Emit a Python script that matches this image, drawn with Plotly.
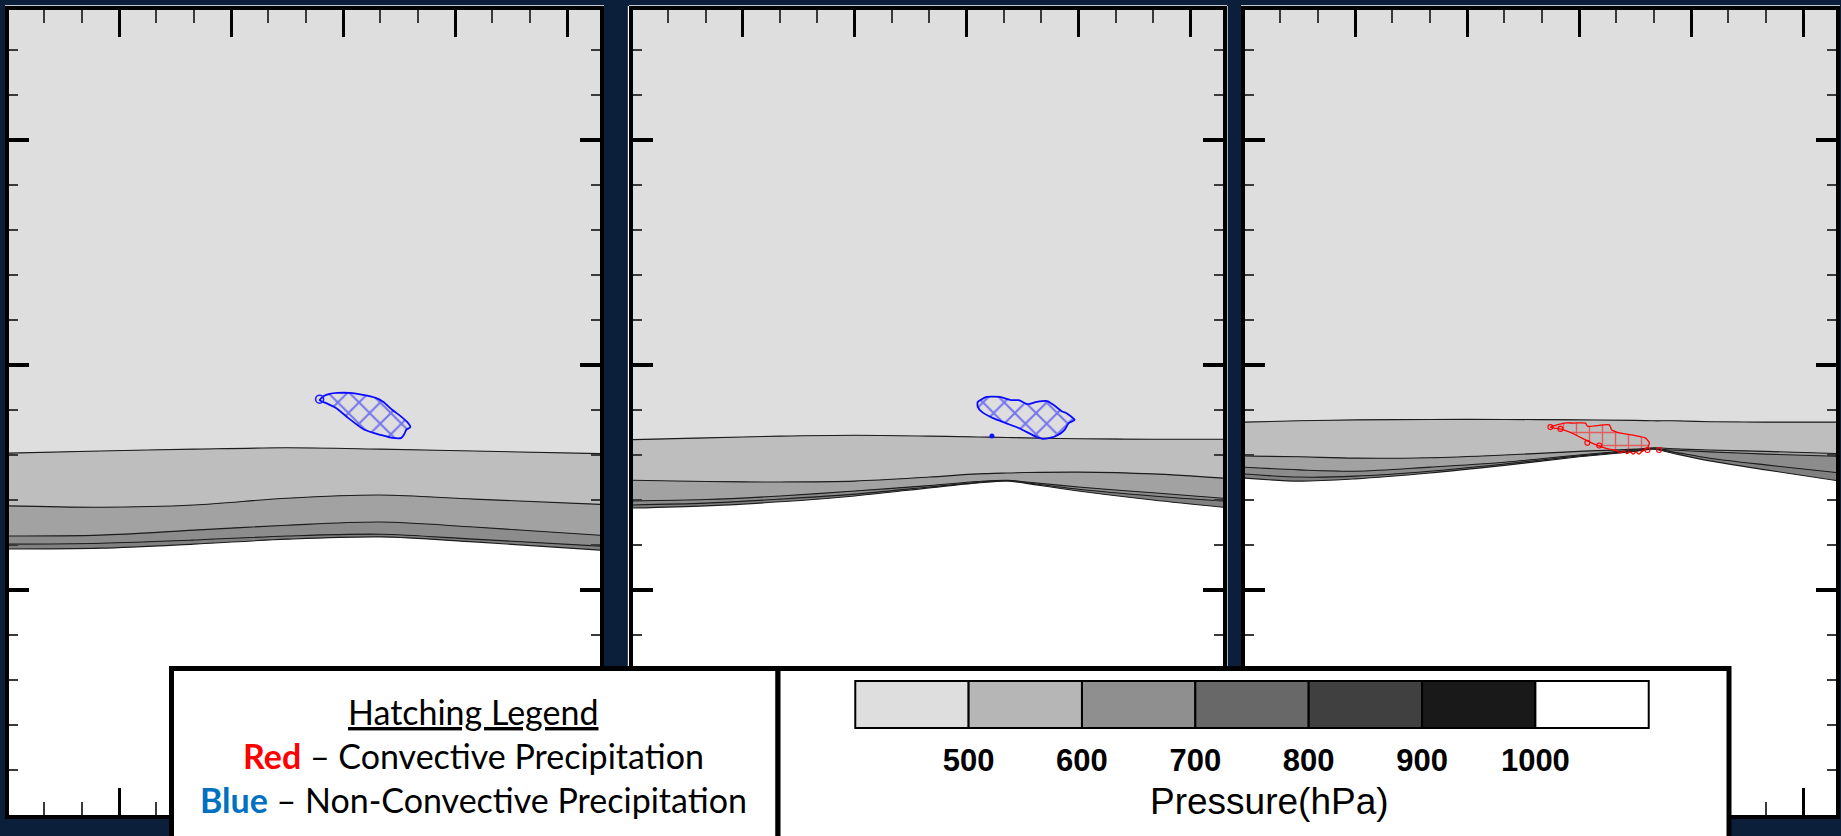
import plotly.graph_objects as go

W, H = 1841, 836
BG = '#0b1f3b'

# ---------------- data ----------------
X_RANGE = [5, 1588]          # horizontal distance along section
Y_RANGE = [0, 17.89]         # height (km)
Y_TOP = 19.0

# heights (km) of the pressure surfaces bounding each shaded band
P1_X = [0, 250, 500, 750, 1000, 1250, 1600]
P1_A = [8.04, 8.09, 8.13, 8.16, 8.13, 8.09, 8.03]
P1_B = [6.87, 6.84, 6.89, 7.04, 7.11, 7.02, 6.90]
P1_C = [6.20, 6.22, 6.33, 6.44, 6.51, 6.40, 6.21]
P1_D = [6.02, 6.04, 6.11, 6.20, 6.24, 6.13, 5.97]
P1_E = [5.91, 5.93, 6.02, 6.13, 6.18, 6.07, 5.88]

P2_X = [0, 200, 400, 600, 800, 930, 1010, 1060, 1200, 1400, 1600]
P2_A = [8.34, 8.38, 8.42, 8.44, 8.42, 8.40, 8.39, 8.38, 8.36, 8.35, 8.35]
P2_B = [7.44, 7.41, 7.40, 7.42, 7.51, 7.58, 7.60, 7.61, 7.62, 7.58, 7.48]
P2_C = [6.98, 7.01, 7.09, 7.20, 7.32, 7.41, 7.44, 7.40, 7.29, 7.16, 7.03]
P2_D = [6.89, 6.93, 7.02, 7.13, 7.29, 7.39, 7.43, 7.38, 7.24, 7.09, 6.97]
P2_E = [6.82, 6.87, 6.96, 7.09, 7.27, 7.38, 7.42, 7.37, 7.20, 7.00, 6.83]

P3_X = [0, 150, 300, 500, 700, 900, 1050, 1100, 1150, 1250, 1400, 1600]
P3_A = [8.73, 8.76, 8.78, 8.79, 8.79, 8.78, 8.77, 8.76, 8.76, 8.74, 8.73, 8.73]
P3_B = [7.98, 7.96, 7.93, 7.94, 8.00, 8.08, 8.13, 8.16, 8.14, 8.11, 8.08, 8.03]
P3_C = [7.73, 7.67, 7.64, 7.73, 7.84, 8.00, 8.11, 8.14, 8.11, 8.07, 8.02, 7.97]
P3_D = [7.58, 7.51, 7.53, 7.64, 7.80, 7.98, 8.09, 8.13, 8.07, 7.93, 7.78, 7.60]
P3_E = [7.49, 7.42, 7.47, 7.60, 7.77, 7.96, 8.08, 8.13, 8.04, 7.87, 7.67, 7.42]

# precipitation areas (hatched)
BLUE1_X = [837, 848, 864, 885, 917, 957, 987, 1008, 1032, 1053, 1072, 1080, 1069, 1064,
           1056, 1032, 1003, 957, 914, 882, 853]
BLUE1_Y = [9.22, 9.31, 9.36, 9.38, 9.38, 9.33, 9.27, 9.18, 9.00, 8.87, 8.73, 8.62, 8.56, 8.47,
           8.38, 8.38, 8.44, 8.56, 8.82, 9.04, 9.16]
BLUE2_X = [930, 954, 989, 1019, 1040, 1064, 1088, 1116, 1134, 1158, 1168, 1190, 1174, 1163,
           1144, 1123, 1104, 1088, 1040, 1005, 971, 941, 930]
BLUE2_Y = [9.18, 9.29, 9.29, 9.22, 9.22, 9.13, 9.18, 9.20, 9.11, 8.96, 8.93, 8.78, 8.71, 8.56,
           8.44, 8.38, 8.36, 8.40, 8.60, 8.71, 8.82, 8.96, 9.07]
RED3_X = [823, 860, 885, 917, 922, 981, 987, 1008, 1045, 1077, 1088, 1083, 1067, 1060, 1052,
          1045, 1036, 1028, 1020, 1010, 1000, 981, 960, 933, 906, 880, 858, 834]
RED3_Y = [8.62, 8.71, 8.71, 8.71, 8.64, 8.67, 8.56, 8.49, 8.44, 8.38, 8.27, 8.16, 8.07, 8.02, 8.07,
          8.02, 8.07, 8.03, 8.09, 8.05, 8.10, 8.13, 8.18, 8.27, 8.38, 8.49, 8.56, 8.60]
BLUE1_DOT = ([837], [9.24])
BLUE2_DOT = ([968], [8.42])
RED_DOTS_X = [823, 850, 922, 954, 1083, 1114]
RED_DOTS_Y = [8.62, 8.58, 8.27, 8.21, 8.11, 8.11]

# colour key
CB_COLORS = ['#dedede', '#b6b6b6', '#8f8f8f', '#686868', '#404040', '#191919', '#ffffff']
CB_LABELS = ['500', '600', '700', '800', '900', '1000']

SKY = '#dedede'
BAND_FILLS = ['#bebebe', '#a2a2a2', '#8c8c8c', '#808080']

# ---------------- layout geometry (pixels) ----------------
PANELS_PX = [(9, 600), (633, 1223), (1245, 1836)]
TOP_PX, BOT_PX = 10, 815

fig = go.Figure()

def ax_name(i, kind):
    return kind if i == 1 else f'{kind}{i}'

panel_data = [
    (P1_X, [P1_A, P1_B, P1_C, P1_D, P1_E]),
    (P2_X, [P2_A, P2_B, P2_C, P2_D, P2_E]),
    (P3_X, [P3_A, P3_B, P3_C, P3_D, P3_E]),
]

for k, (xs, levels) in enumerate(panel_data, start=1):
    xa, ya = ax_name(k, 'x'), ax_name(k, 'y')
    fig.add_trace(go.Scatter(x=xs, y=[Y_TOP] * len(xs), mode='lines', line=dict(width=0),
                             xaxis=xa, yaxis=ya, hoverinfo='skip', showlegend=False))
    fills = [SKY] + BAND_FILLS
    for j, ys in enumerate(levels):
        fig.add_trace(go.Scatter(x=xs, y=ys, mode='lines',
                                 line=dict(color='#1c1c1c', width=1.1, shape='spline', smoothing=0.9),
                                 fill='tonexty', fillcolor=fills[j],
                                 xaxis=xa, yaxis=ya, hoverinfo='skip', showlegend=False))
    fig.add_trace(go.Scatter(x=xs, y=[-1] * len(xs), mode='lines', line=dict(width=0),
                             fill='tonexty', fillcolor='white',
                             xaxis=xa, yaxis=ya, hoverinfo='skip', showlegend=False))

def hatch(xs, ys, xa, ya, color, shape, size, solidity, lw):
    fig.add_trace(go.Scatter(x=xs + [xs[0]], y=ys + [ys[0]], mode='lines', fill='toself',
                             fillcolor='rgba(0,0,0,0)',
                             fillpattern=dict(shape=shape, fgcolor=color, bgcolor='rgba(0,0,0,0)',
                                              size=size, solidity=solidity, fillmode='overlay'),
                             line=dict(color=color, width=lw, shape='spline', smoothing=0.6),
                             xaxis=xa, yaxis=ya, hoverinfo='skip', showlegend=False))

hatch(BLUE1_X, BLUE1_Y, 'x', 'y', '#0a0aff', 'x', 15, 0.25, 1.8)
hatch(BLUE2_X, BLUE2_Y, 'x2', 'y2', '#0a0aff', 'x', 15, 0.25, 1.8)
hatch(RED3_X, RED3_Y, 'x3', 'y3', '#ff0000', '+', 13, 0.2, 1.3)

fig.add_trace(go.Scatter(x=BLUE1_DOT[0], y=BLUE1_DOT[1], mode='markers',
                         marker=dict(symbol='circle-open', size=8, color='#1f1fff', line=dict(width=1.6)),
                         xaxis='x', yaxis='y', hoverinfo='skip', showlegend=False))
fig.add_trace(go.Scatter(x=BLUE2_DOT[0], y=BLUE2_DOT[1], mode='markers',
                         marker=dict(symbol='circle', size=5, color='#1010ff'),
                         xaxis='x2', yaxis='y2', hoverinfo='skip', showlegend=False))
fig.add_trace(go.Scatter(x=RED_DOTS_X, y=RED_DOTS_Y, mode='markers',
                         marker=dict(symbol='circle-open', size=5, color='#ff0000', line=dict(width=1.1)),
                         xaxis='x3', yaxis='y3', hoverinfo='skip', showlegend=False))

# subplot 4: full-page overlay used for the legend boxes
fig.add_trace(go.Scatter(x=[], y=[], xaxis='x4', yaxis='y4', showlegend=False))

# subplot 5: colour key
fig.add_trace(go.Bar(x=[1] * len(CB_COLORS), base=list(range(len(CB_COLORS))),
                     y=[0] * len(CB_COLORS), orientation='h', width=1,
                     marker=dict(color=CB_COLORS, line=dict(color='black', width=2)),
                     xaxis='x5', yaxis='y5', hoverinfo='skip', showlegend=False))

layout = dict(
    width=W, height=H, autosize=False,
    margin=dict(l=0, r=0, t=0, b=0, pad=0),
    paper_bgcolor=BG, plot_bgcolor='rgba(0,0,0,0)',
    showlegend=False, hovermode=False,
)

ydom = [1 - BOT_PX / H, 1 - TOP_PX / H]
for k, (L, R) in enumerate(PANELS_PX, start=1):
    xk, yk = ('xaxis', 'yaxis') if k == 1 else (f'xaxis{k}', f'yaxis{k}')
    layout[xk] = dict(
        domain=[L / W, R / W], range=X_RANGE, anchor=ax_name(k, 'y'),
        showgrid=False, zeroline=False, showticklabels=False,
        showline=True, linecolor='black', linewidth=4, mirror='allticks',
        ticks='inside', tickmode='linear', tick0=0, dtick=300,
        ticklen=27, tickwidth=3, tickcolor='black',
        minor=dict(ticks='inside', tick0=0, dtick=100, ticklen=13, tickwidth=1.5,
                   tickcolor='#3a3a3a', showgrid=False),
    )
    layout[yk] = dict(
        domain=ydom, range=Y_RANGE, anchor=ax_name(k, 'x'),
        showgrid=False, zeroline=False, showticklabels=False,
        showline=True, linecolor='black', linewidth=4, mirror='allticks',
        ticks='inside', tickmode='linear', tick0=0, dtick=5,
        ticklen=20, tickwidth=3.5, tickcolor='black',
        minor=dict(ticks='inside', tick0=0, dtick=1, ticklen=9, tickwidth=1.5,
                   tickcolor='#3a3a3a', showgrid=False),
    )

layout['xaxis4'] = dict(domain=[0, 1], range=[0, W], anchor='y4', visible=False)
layout['yaxis4'] = dict(domain=[0, 1], range=[H, 0], anchor='x4', visible=False)

layout['xaxis5'] = dict(domain=[853 / W, 1651 / W], range=[-0.02, 7.02], anchor='y5',
                        showgrid=False, zeroline=False, showline=False, ticks='',
                        tickmode='array', tickvals=list(range(1, 7)),
                        ticktext=[f'<b>{t}</b>' for t in CB_LABELS],
                        tickfont=dict(family='Liberation Sans, Arial', size=31, color='black'),
                        ticklabelstandoff=10)
layout['yaxis5'] = dict(domain=[1 - 729 / H, 1 - 680 / H], range=[-0.52, 0.52], anchor='x5',
                        visible=False)

shapes = []
# thin white borders of the slide images
for (L, R) in PANELS_PX:
    shapes.append(dict(type='line', xref='paper', yref='paper', layer='below',
                       x0=(L - 4) / W, x1=(R + 4) / W, y0=1 - 6 / H, y1=1 - 6 / H,
                       line=dict(color='white', width=1.3)))
    shapes.append(dict(type='line', xref='paper', yref='paper', layer='below',
                       x0=(L - 4) / W, x1=(R + 4) / W, y0=1 - 818 / H, y1=1 - 818 / H,
                       line=dict(color='white', width=1.3)))
L2, R2 = PANELS_PX[1]
for xv in (L2 - 4.5, R2 + 4):
    shapes.append(dict(type='line', xref='paper', yref='paper', layer='below',
                       x0=xv / W, x1=xv / W, y0=1 - 818 / H, y1=1 - 6 / H,
                       line=dict(color='white', width=1.3)))
# legend boxes (in overlay subplot, below its traces)
for (x0, x1) in [(171.5, 778), (778, 1729)]:
    shapes.append(dict(type='rect', xref='x4', yref='y4', layer='below',
                       x0=x0, x1=x1, y0=668.5, y1=H + 20,
                       fillcolor='white', line=dict(color='black', width=5)))
layout['shapes'] = shapes

TXT_FONT = 'Lato, Carlito, Calibri, sans-serif'
TXT_SIZE = 34
layout['annotations'] = [
    dict(xref='paper', yref='paper', x=473 / W, y=1 - 711 / H, xanchor='center', yanchor='middle',
         text='<u>Hatching Legend</u>', showarrow=False,
         font=dict(family=TXT_FONT, size=TXT_SIZE, color='black')),
    dict(xref='paper', yref='paper', x=473 / W, y=1 - 755 / H, xanchor='center', yanchor='middle',
         text="<b><span style='color:#ff0000'>Red</span></b> \u2013 Convective Precipitation",
         showarrow=False, font=dict(family=TXT_FONT, size=TXT_SIZE, color='black')),
    dict(xref='paper', yref='paper', x=473 / W, y=1 - 799 / H, xanchor='center', yanchor='middle',
         text="<b><span style='color:#0070c0'>Blue</span></b> \u2013 Non-Convective Precipitation",
         showarrow=False, font=dict(family=TXT_FONT, size=TXT_SIZE, color='black')),
    dict(xref='paper', yref='paper', x=1269 / W, y=1 - 801 / H, xanchor='center', yanchor='middle',
         text='Pressure(hPa)', showarrow=False,
         font=dict(family='Liberation Sans, Arial', size=37, color='black')),
]

fig.update_layout(**layout)
fig.write_html('out.html')
